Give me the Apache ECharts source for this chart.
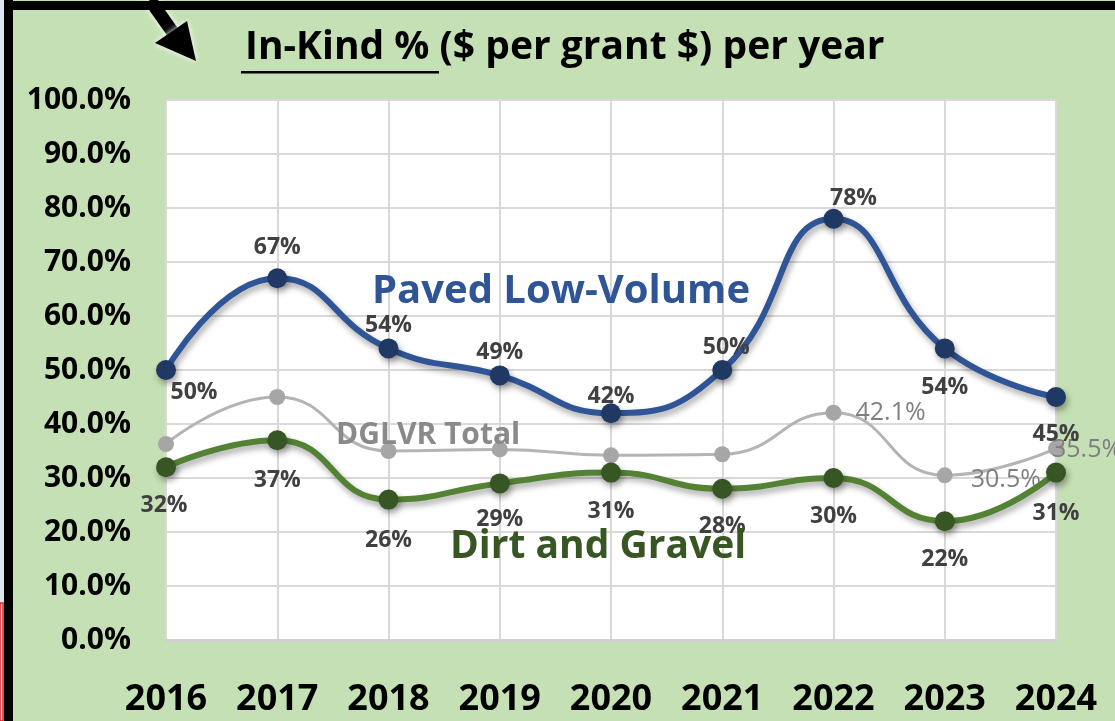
<!DOCTYPE html>
<html>
<head>
<meta charset="utf-8">
<script src="https://cdn.jsdelivr.net/npm/echarts@6/dist/echarts.min.js"></script>
<style>
  html, body { margin: 0; padding: 0; background: #c5e0b4; }
  #chart { width: 1115px; height: 721px; }
</style>
</head>
<body>
<div id="chart"></div>
<script>
// data
const years = ['2016', '2017', '2018', '2019', '2020', '2021', '2022', '2023', '2024']
const paved = [50, 67, 54, 49, 42, 50, 78, 54, 45]
const dglvrTotal = [36.3, 45, 35, 35.3, 34.2, 34.4, 42.1, 30.5, 35.5]
const dirtGravel = [32, 37, 26, 29, 31, 28, 30, 22, 31]
const yTicks = [0, 10, 20, 30, 40, 50, 60, 70, 80, 90, 100]

const FONT = '"Open Sans", "Noto Sans", sans-serif'

const chart = echarts.init(document.getElementById('chart'))

const lblBase = {
    show: true,
    fontFamily: FONT,
    fontWeight: 'bold',
    fontSize: 23,
    color: '#404040',
    formatter: p => Math.round(p.value) + '%'
}

// per point label placement (Excel style, hand placed)
const pavedLabels = [
    { position: 'bottom', distance: 1, offset: [28, 0] },
    { position: 'top', distance: 9 },
    { position: 'top', distance: 1 },
    { position: 'top', distance: 1 },
    { position: 'top', distance: -5 },
    { position: 'top', distance: 1, offset: [4, 0] },
    { position: 'top', distance: -1, offset: [20, 0] },
    { position: 'bottom', distance: 18 },
    { position: 'bottom', distance: 16 }
]
const dirtLabels = [
    { position: 'bottom', distance: 17, offset: [-2, 0] },
    { position: 'bottom', distance: 19 },
    { position: 'bottom', distance: 19 },
    { position: 'bottom', distance: 15 },
    { position: 'bottom', distance: 17 },
    { position: 'bottom', distance: 16 },
    { position: 'bottom', distance: 17 },
    { position: 'bottom', distance: 17 },
    { position: 'bottom', distance: 19 }
]
const totalLabels = [null, null, null, null, null, null,
    { position: 'right', distance: 14 },
    { position: 'right', distance: 18, offset: [0, 5] },
    { position: 'right', distance: -12, offset: [0, 2] }
]

const shadow = {
    shadowColor: 'rgba(0,0,0,0.35)',
    shadowBlur: 6,
    shadowOffsetX: 2,
    shadowOffsetY: 4
}

const option = {
    backgroundColor: '#c5e0b4',
    animation: false,
    title: {
        text: '{u|In-Kind % }{n|($ per grant $) per year}',
        left: 240,
        top: 23,
        textStyle: {
            rich: {
                u: { fontFamily: FONT, fontWeight: 'bold', fontSize: 39, color: '#000' },
                n: { fontFamily: FONT, fontWeight: 'bold', fontSize: 39, color: '#000' }
            }
        }
    },
    grid: {
        left: 166,
        right: 59,
        top: 100,
        bottom: 81,
        show: true,
        backgroundColor: '#ffffff',
        borderWidth: 0
    },
    xAxis: {
        type: 'category',
        data: years,
        boundaryGap: false,
        axisLine: { show: true, lineStyle: { color: '#d0d0d0', width: 3 } },
        axisTick: { show: false },
        splitLine: { show: true, lineStyle: { color: '#d9d9d9', width: 2 } },
        axisLabel: {
            margin: 42,
            fontFamily: FONT,
            fontWeight: 'bold',
            fontSize: 36,
            color: '#000'
        }
    },
    yAxis: {
        type: 'value',
        min: yTicks[0],
        max: yTicks[yTicks.length - 1],
        interval: 10,
        axisLine: { show: false },
        axisTick: { show: false },
        splitLine: { lineStyle: { color: '#d9d9d9', width: 2 } },
        axisLabel: {
            margin: 35,
            fontFamily: FONT,
            fontWeight: 'bold',
            fontSize: 30,
            color: '#000',
            formatter: v => v.toFixed(1) + '%'
        }
    },
    series: [
        {
            name: 'DGLVR Total',
            type: 'line',
            smooth: 0.5,
            data: dglvrTotal.map((v, i) => totalLabels[i]
                ? { value: v, label: Object.assign({ show: true }, totalLabels[i]) }
                : v),
            symbol: 'circle',
            symbolSize: 16,
            itemStyle: { color: '#a6a6a6' },
            lineStyle: { color: '#b4b4b4', width: 3 },
            label: {
                show: false,
                fontFamily: FONT,
                fontSize: 25,
                color: '#7f7f7f',
                formatter: p => p.value.toFixed(1) + '%'
            },
            z: 2
        },
        {
            name: 'Dirt and Gravel',
            type: 'line',
            smooth: 0.5,
            data: dirtGravel.map((v, i) => ({ value: v, label: dirtLabels[i] })),
            symbol: 'circle',
            symbolSize: 20,
            itemStyle: Object.assign({ color: '#375623' }, shadow),
            lineStyle: Object.assign({ color: '#548235', width: 6 }, shadow),
            label: lblBase,
            z: 3
        },
        {
            name: 'Paved Low-Volume',
            type: 'line',
            smooth: 0.5,
            data: paved.map((v, i) => ({ value: v, label: pavedLabels[i] })),
            symbol: 'circle',
            symbolSize: 20,
            itemStyle: Object.assign({ color: '#1f3864' }, shadow),
            lineStyle: Object.assign({ color: '#2f5597', width: 6 }, shadow),
            label: lblBase,
            z: 4
        }
    ],
    graphic: [
        // frame on the left and top
        { type: 'rect', shape: { x: 0, y: 0, width: 4, height: 721 }, style: { fill: '#dde5ef' }, z: 100 },
        { type: 'rect', shape: { x: 0, y: 603, width: 3, height: 118 }, style: { fill: 'none', stroke: '#e02020', lineWidth: 1.5 }, z: 101 },
        { type: 'rect', shape: { x: 4, y: 0, width: 9, height: 721 }, style: { fill: '#000' }, z: 100 },
        { type: 'rect', shape: { x: 4, y: 1, width: 1111, height: 9 }, style: { fill: '#000' }, z: 100 },
        // pointing arrow
        {
            type: 'group', z: 100,
            children: [
                { type: 'line', shape: { x1: 150, y1: 0, x2: 174, y2: 34 }, style: { stroke: '#000', lineWidth: 13, shadowColor: '#fff', shadowBlur: 6 } },
                { type: 'polygon', shape: { points: [[155, 43], [187, 21], [196, 61]] }, style: { fill: '#000', shadowColor: '#fff', shadowBlur: 6 } }
            ]
        },
        // underline for "In-Kind % "
        { type: 'rect', shape: { x: 241, y: 71, width: 198, height: 2.5 }, style: { fill: '#000' }, z: 100 },
        // series annotations
        {
            type: 'text', left: 372, top: 272, z: 100,
            style: { text: 'Paved Low-Volume', fontFamily: FONT, fontWeight: 'bold', fontSize: 40, fill: '#2f5597' }
        },
        {
            type: 'text', left: 336, top: 420, z: 100,
            style: { text: 'DGLVR Total', fontFamily: FONT, fontWeight: 'bold', fontSize: 30, fill: '#8a8a8a' }
        },
        {
            type: 'text', left: 450, top: 527, z: 100,
            style: { text: 'Dirt and Gravel', fontFamily: FONT, fontWeight: 'bold', fontSize: 39, fill: '#375623' }
        }
    ]
}

chart.setOption(option)
</script>
</body>
</html>
